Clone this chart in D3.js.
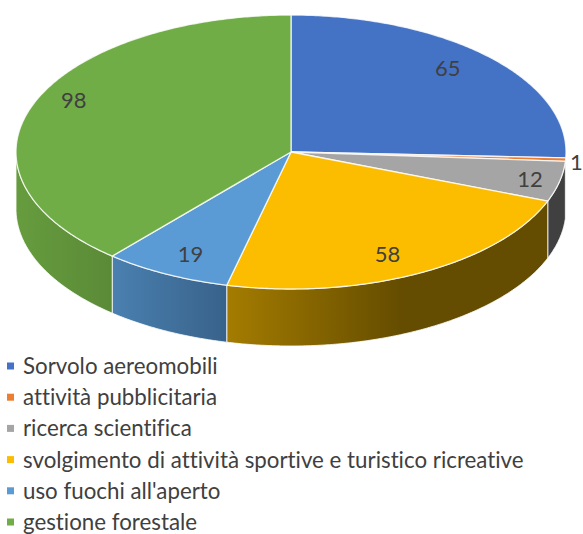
<!DOCTYPE html>
<html>
<head>
<meta charset="utf-8">
<script src="https://cdn.jsdelivr.net/npm/d3@7"></script>
<style>
body { margin: 0; background: #fff; overflow: hidden; }
svg { display: block; }
text { font-family: Lato, "Open Sans", sans-serif; fill: #404040; font-variant-ligatures: none; }
</style>
</head>
<body>
<svg id="chart" width="583" height="534"></svg>
<script>
// chart data
const categories = ["Sorvolo aereomobili", "attività pubblicitaria", "ricerca scientifica",
    "svolgimento di attività sportive e turistico ricreative", "uso fuochi all'aperto", "gestione forestale"];
const values = [65, 1, 12, 58, 19, 98];

// colours: top face, then left/right stop of the side wall gradient
const colors = ["#4472c4", "#ed7d31", "#a5a5a5", "#fcbd00", "#5b9bd5", "#70ad47"];
const sideLeft = ["#2f5597", "#a85a20", "#404040", "#a47c00", "#4a80b0", "#669c3e"];
const sideRight = ["#2f5597", "#a85a20", "#404040", "#644c00", "#38628a", "#5b8a37"];
const sideStop = [1, 1, 1, 0.55, 1, 1];

// pie geometry (tilted ellipse plus wall depth)
const cx = 291, cy = 152, rx = 275, ry = 137, depth = 57;
// label radius as a share of the pie radius, and small nudges to sit like the original
const labelR = [0.85, 1.05, 0.89, 0.8, 0.82, 0.85];
const labelNudge = [[-12, -4], [-3, 1], [0, 0], [-6, 5], [2, 1], [2, -12]];

const svg = d3.select("#chart");
const arcs = d3.pie().sort(null)(values);

function px(a, r) { return cx + rx * r * Math.sin(a); }
function py(a, r) { return cy - ry * r * Math.cos(a); }

// points along the rim between two angles
function rim(a0, a1) {
    const n = Math.max(2, Math.ceil(Math.abs(a1 - a0) / 0.01));
    return d3.range(n + 1).map(i => a0 + (a1 - a0) * i / n);
}

const line = d3.line();

const defs = svg.append("defs");
arcs.forEach((d, i) => {
    const g = defs.append("linearGradient").attr("id", "side" + i);
    g.append("stop").attr("offset", 0).attr("stop-color", sideLeft[i]);
    g.append("stop").attr("offset", sideStop[i]).attr("stop-color", sideRight[i]);
});

// side walls, only the part facing the viewer (90deg to 270deg)
const front = arcs.filter(d => d.endAngle > Math.PI / 2 && d.startAngle < 3 * Math.PI / 2);
svg.append("g").selectAll("path")
    .data(front)
    .enter()
    .append("path")
    .attr("d", d => {
        const a0 = Math.max(d.startAngle, Math.PI / 2);
        const a1 = Math.min(d.endAngle, 3 * Math.PI / 2);
        const top = rim(a0, a1).map(a => [px(a, 1), py(a, 1)]);
        const bottom = rim(a1, a0).map(a => [px(a, 1), py(a, 1) + depth]);
        return line(top.concat(bottom)) + "Z";
    })
    .attr("fill", d => "url(#side" + d.index + ")")
    .attr("stroke", "#fff")
    .attr("stroke-width", 0.8);

// top face
svg.append("g").selectAll("path")
    .data(arcs)
    .enter()
    .append("path")
    .attr("d", d => {
        const pts = rim(d.startAngle, d.endAngle).map(a => [px(a, 1), py(a, 1)]);
        return line([[cx, cy]].concat(pts)) + "Z";
    })
    .attr("fill", d => colors[d.index])
    .attr("stroke", "#fff")
    .attr("stroke-opacity", 0.8)
    .attr("stroke-width", 1.3)
    .attr("stroke-linejoin", "round");

// value labels
svg.append("g").selectAll("text")
    .data(arcs)
    .enter()
    .append("text")
    .attr("x", d => px((d.startAngle + d.endAngle) / 2, labelR[d.index]) + labelNudge[d.index][0])
    .attr("y", d => py((d.startAngle + d.endAngle) / 2, labelR[d.index]) + labelNudge[d.index][1])
    .attr("text-anchor", "middle")
    .attr("dominant-baseline", "central")
    .attr("font-size", 22)
    .text(d => d.value);

// legend
const legendY = d3.scalePoint().domain(categories).range([365.5, 521.5]);
const legend = svg.append("g").selectAll("g")
    .data(categories)
    .enter()
    .append("g")
    .attr("transform", d => "translate(0," + legendY(d) + ")");
legend.append("rect")
    .attr("x", 7).attr("y", -3).attr("width", 7).attr("height", 7)
    .attr("fill", (d, i) => colors[i]);
legend.append("text")
    .attr("x", 23)
    .attr("dominant-baseline", "central")
    .attr("font-size", 22.3)
    .text(d => d);
</script>
</body>
</html>
